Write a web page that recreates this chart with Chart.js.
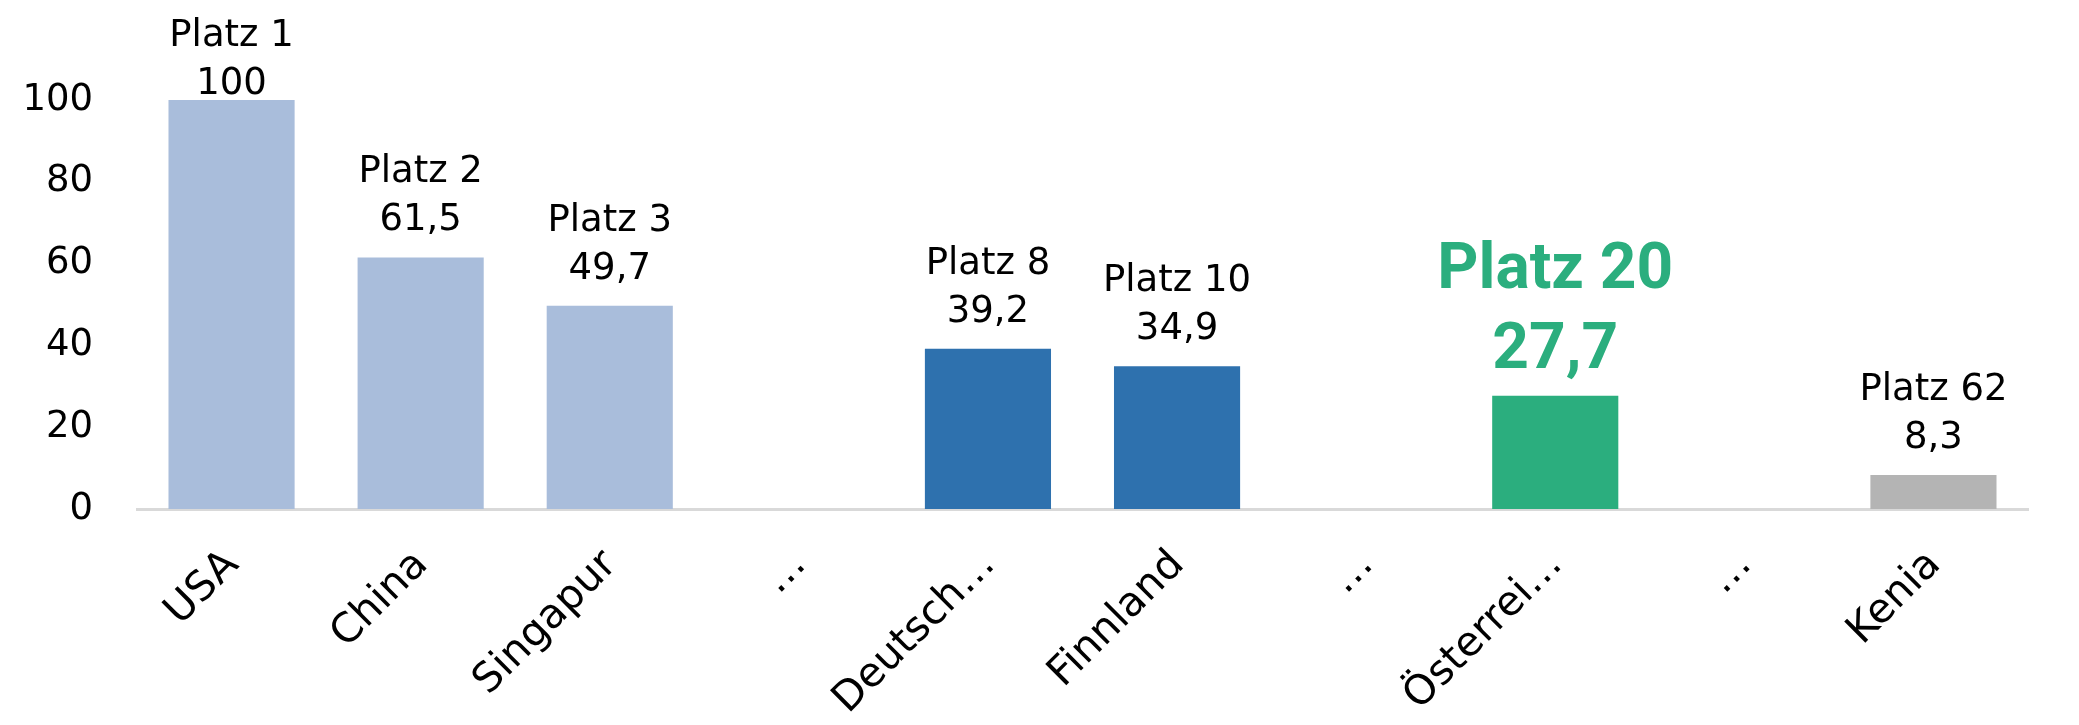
<!DOCTYPE html>
<html>
<head>
<meta charset="utf-8">
<script src="https://cdn.jsdelivr.net/npm/chart.js@4/dist/chart.umd.min.js"></script>
<style>
  html, body { margin: 0; padding: 0; background: #fff; }
</style>
</head>
<body>
<canvas id="chart" width="2079" height="725"></canvas>
<script>
var countries = ['USA', 'China', 'Singapur', '…', 'Deutsch…', 'Finnland', '…', 'Österrei…', '…', 'Kenia'];
var scores = [100, 61.5, 49.7, null, 39.2, 34.9, null, 27.7, null, 8.3];
var ranks = ['Platz 1', 'Platz 2', 'Platz 3', '', 'Platz 8', 'Platz 10', '', 'Platz 20', '', 'Platz 62'];
var barColors = ['#a9bddb', '#a9bddb', '#a9bddb', '#ffffff', '#2e71ae', '#2e71ae', '#ffffff', '#2bae7e', '#ffffff', '#b4b4b4'];
var yTicks = [0, 20, 40, 60, 80, 100];
var highlight = 7; // Österreich

var green = '#2bae7e';
var textFont = '"DejaVu Sans", Verdana, sans-serif';

// rank + value above each bar
var barLabels = {
    id: 'barLabels',
    afterDatasetsDraw: function (chart) {
        var ctx = chart.ctx;
        var bars = chart.getDatasetMeta(0).data;
        ctx.save();
        ctx.textAlign = 'center';
        ctx.textBaseline = 'alphabetic';
        bars.forEach(function (bar, i) {
            if (scores[i] == null) return;
            var value = String(scores[i]).replace('.', ',');
            if (i === highlight) {
                ctx.fillStyle = green;
                ctx.font = 'bold 64px Roboto';
                var vy = bar.y - 28;
                ctx.fillText(value, bar.x, vy);
                ctx.fillText(ranks[i], bar.x, vy - 80);
            } else {
                ctx.fillStyle = '#000';
                ctx.font = '37px ' + textFont;
                var ry = Math.max(bar.y - 27 - 48, 46);
                ctx.fillText(ranks[i], bar.x, ry);
                ctx.fillText(value, bar.x, ry + 48);
            }
        });
        ctx.restore();
    }
};

new Chart(document.getElementById('chart'), {
    type: 'bar',
    data: {
        labels: countries,
        datasets: [{
            data: scores,
            backgroundColor: barColors,
            barPercentage: 0.667,
            categoryPercentage: 1
        }]
    },
    options: {
        responsive: false,
        animation: false,
        devicePixelRatio: 1,
        layout: { padding: { top: 100, right: 51, bottom: 0, left: 22 } },
        plugins: { legend: { display: false }, tooltip: { enabled: false } },
        scales: {
            x: {
                grid: { display: false, drawTicks: false },
                border: { display: true, color: '#d9d9d9', width: 3 },
                ticks: {
                    color: '#000',
                    font: { family: textFont, size: 41 },
                    minRotation: 45,
                    maxRotation: 45,
                    autoSkip: false,
                    padding: 32,
                    labelOffset: 1
                },
                afterFit: function (s) { s.height = 216; }
            },
            y: {
                min: 0,
                max: 100,
                grid: { display: false, drawTicks: false },
                border: { display: false },
                ticks: {
                    color: '#000',
                    font: { family: textFont, size: 37 },
                    padding: 44
                },
                afterBuildTicks: function (s) {
                    s.ticks = yTicks.map(function (v) { return { value: v }; });
                },
                afterFit: function (s) { s.width = 115; }
            }
        }
    },
    plugins: [barLabels]
});
</script>
</body>
</html>
